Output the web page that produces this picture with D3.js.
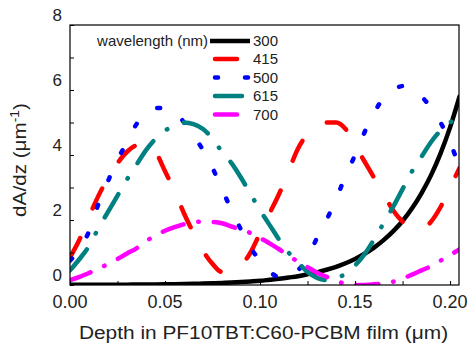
<!DOCTYPE html>
<html><head><meta charset="utf-8">
<script src="https://cdn.jsdelivr.net/npm/d3@7"></script>
<style>
html,body{margin:0;padding:0;background:#fff;}
svg{display:block;font-family:"Liberation Sans",Arial,Helvetica,sans-serif;}
</style></head>
<body>
<svg id="chart" width="468" height="351"></svg>
<script>
// ---- data ----
const depth = [0,0.005,0.01,0.015,0.02,0.025,0.03,0.035,0.04,0.045,0.05,0.055,0.06,0.065,0.07,0.075,0.08,0.085,0.09,0.095,0.1,0.105,0.11,0.115,0.12,0.125,0.13,0.135,0.14,0.145,0.15,0.155,0.16,0.165,0.17,0.175,0.18,0.185,0.19,0.195,0.2,0.205];
const wl300 = [0.004,0.004,0.005,0.006,0.007,0.009,0.011,0.013,0.015,0.018,0.022,0.026,0.031,0.037,0.045,0.054,0.064,0.077,0.092,0.11,0.13,0.16,0.19,0.23,0.27,0.33,0.39,0.47,0.56,0.67,0.80,0.96,1.15,1.38,1.65,1.97,2.36,2.83,3.38,4.05,4.85,5.8];
const wl415 = [0.85,1.4,2.1,2.75,3.3,3.75,4.1,4.3,4.35,4.1,3.5,2.9,2.2,1.6,1.05,0.65,0.4,0.4,0.6,1.0,1.6,2.2,2.8,3.5,4.2,4.65,4.92,5.0,5.0,4.8,4.3,3.8,3.3,2.8,2.3,1.95,1.75,1.7,1.95,2.4,3.0,3.6];
const wl500 = [0.75,1.1,1.65,2.5,3.2,3.85,4.4,4.95,5.3,5.45,5.45,5.35,5.0,4.6,4.15,3.6,2.95,2.3,1.7,1.15,0.75,0.42,0.25,0.25,0.45,0.85,1.45,2.0,2.65,3.35,4.0,4.7,5.3,5.75,6.0,6.12,6.05,5.8,5.45,5.0,4.4,3.6];
const wl615 = [0.45,0.8,1.2,1.75,2.25,2.75,3.25,3.7,4.15,4.5,4.75,4.9,5.0,4.95,4.8,4.5,4.1,3.75,3.3,2.8,2.3,1.85,1.4,1.0,0.7,0.4,0.22,0.15,0.2,0.35,0.6,0.95,1.4,1.9,2.4,2.95,3.5,3.95,4.4,4.75,5.0,5.2];
const wl700 = [0.15,0.25,0.37,0.5,0.65,0.8,0.97,1.13,1.35,1.52,1.67,1.78,1.87,1.93,1.95,1.94,1.9,1.8,1.7,1.6,1.45,1.28,1.1,0.9,0.72,0.55,0.38,0.25,0.12,0.04,0.0,0.0,0.02,0.05,0.1,0.2,0.32,0.45,0.58,0.75,0.92,1.1];
const seriesNames = ["300","415","500","615","700"];
const xTickLabels = ["0.00","0.05","0.10","0.15","0.20"];
const yTickLabels = ["0","2","4","6","8"];

// ---- styles ----
const styles = {
  "300": {color:"#000000", dash:null, w:4.5},
  "415": {color:"#ff0000", dash:"22,32", w:4.5},
  "500": {color:"#0000ff", dash:"3,27", w:4.5},
  "615": {color:"#008080", dash:"27,18,0.5,18", w:4.5},
  "700": {color:"#ff00ff", dash:"22,15,0.5,15", w:4.5}
};
const seriesVals = {"300":wl300,"415":wl415,"500":wl500,"615":wl615,"700":wl700};

const svg = d3.select("#chart");
const L=70, R=459, T=25, B=285;
const x = d3.scaleLinear().domain([0,0.2047]).range([L,R]);
const y = d3.scaleLinear().domain([0,8]).range([B,T]);

svg.append("defs").append("clipPath").attr("id","clip")
  .append("rect").attr("x",L).attr("y",T).attr("width",R-L).attr("height",B-T);

const line = d3.line().x(d=>x(d[0])).y(d=>y(d[1])).curve(d3.curveMonotoneX);

const g = svg.append("g").attr("clip-path","url(#clip)");
seriesNames.forEach(n=>{
  const st = styles[n];
  g.append("path")
    .datum(depth.map((d,i)=>[d, seriesVals[n][i]]))
    .attr("d",line)
    .attr("fill","none")
    .attr("stroke",st.color)
    .attr("stroke-width",st.w)
    .attr("stroke-linecap","round")
    .attr("stroke-dasharray",st.dash);
});

// frame
svg.append("rect").attr("x",L).attr("y",T).attr("width",R-L).attr("height",B-T)
  .attr("fill","none").attr("stroke","#000").attr("stroke-width",1.2);

// axes with inward ticks
const xAxis = d3.axisBottom(x).tickValues(d3.range(0,0.2001,0.025)).tickSize(-4).tickFormat("");
const gx = svg.append("g").attr("transform",`translate(0,${B})`).call(xAxis);
gx.select(".domain").remove();
gx.selectAll(".tick line").attr("stroke","#000").attr("stroke-width",1);

const yAxis = d3.axisLeft(y).tickValues(d3.range(0,8.01,1)).tickSize(-4).tickFormat("");
const gy = svg.append("g").attr("transform",`translate(${L},0)`).call(yAxis);
gy.select(".domain").remove();
gy.selectAll(".tick line").attr("stroke","#000").attr("stroke-width",1);

// x tick labels
svg.append("g").selectAll("text").data(xTickLabels).join("text")
  .attr("x",d=>x(+d)).attr("y",308)
  .attr("text-anchor","middle").attr("font-size",18).attr("fill","#222")
  .text(d=>d);

// y tick labels (offset upward as in the picture)
svg.append("g").selectAll("text").data(yTickLabels).join("text")
  .attr("x",62).attr("y",d=>y(+d)-10).attr("dy","0.35em")
  .attr("text-anchor","end").attr("font-size",17).attr("fill","#222")
  .text(d=>d);

// axis titles
svg.append("text").attr("transform","translate(263.5,339) scale(1.16,1)")
  .attr("text-anchor","middle").attr("font-size",18).attr("fill","#222")
  .text("Depth in PF10TBT:C60-PCBM film (\u03bcm)");

const yt = svg.append("text").attr("transform","translate(26,160) rotate(-90) scale(1.15,1)")
  .attr("text-anchor","middle").attr("font-size",18).attr("fill","#222");
yt.append("tspan").text("dA/dz (\u03bcm");
yt.append("tspan").attr("font-size",12).attr("dy",-7).text("-1");
yt.append("tspan").attr("dy",7).text(")");

// legend
svg.append("text").attr("x",208).attr("y",41).attr("dy","0.35em")
  .attr("text-anchor","end").attr("font-size",15).attr("fill","#222")
  .text("wavelength (nm)");
const rowY = [41,59,77.5,96,114.5];
seriesNames.forEach((n,i)=>{
  const st = styles[n];
  svg.append("line")
    .attr("x1", n==="300"?210:215).attr("x2",250)
    .attr("y1",rowY[i]).attr("y2",rowY[i])
    .attr("stroke",st.color).attr("stroke-width",st.w)
    .attr("stroke-linecap", n==="300"?"butt":"round")
    .attr("stroke-dasharray",st.dash);
  svg.append("text").attr("x",278).attr("y",rowY[i]).attr("dy","0.35em")
    .attr("text-anchor","end").attr("font-size",15).attr("fill","#222")
    .text(n);
});
</script>
</body></html>
